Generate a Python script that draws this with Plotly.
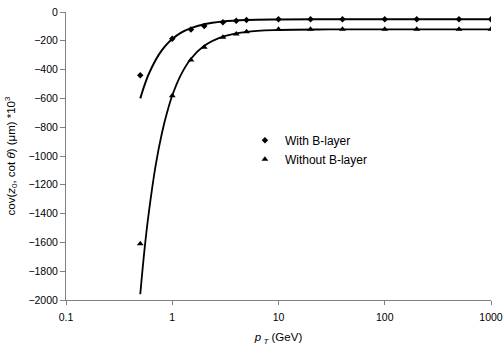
import plotly.graph_objects as go

# Measured data points
pt = [0.5, 1, 1.5, 2, 3, 4, 5, 10, 20, 40, 100, 200, 500, 1000]
with_b = [-440, -185, -122, -97, -72, -60, -55, -50, -50, -50, -50, -50, -50, -50]
without_b = [-1610, -581, -333, -245, -176, -153, -137, -120, -120, -120, -120, -120, -120, -120]

# Fit curves
fit_pt = [0.5, 0.55, 0.6, 0.7, 0.8, 0.9, 1, 1.2, 1.5, 2, 3, 5, 10, 30, 100, 1000]
fit_with = [-600, -505, -432, -331, -265, -220, -188, -145, -112, -85, -66, -56, -52, -50, -50, -50]
fit_without = [-1960, -1640, -1400, -1060, -840, -690, -580, -440, -325, -235, -171, -138, -125, -121, -120, -120]

font = "Liberation Sans, Arial, sans-serif"

fig = go.Figure()
fig.add_trace(go.Scatter(x=fit_pt, y=fit_with, mode="lines", line=dict(color="black", width=2, shape="spline"),
                         showlegend=False, hoverinfo="skip"))
fig.add_trace(go.Scatter(x=fit_pt, y=fit_without, mode="lines", line=dict(color="black", width=1.8, shape="spline"),
                         showlegend=False, hoverinfo="skip"))
fig.add_trace(go.Scatter(x=pt, y=with_b, mode="markers", name="With B-layer",
                         marker=dict(symbol="diamond", size=5, color="black")))
fig.add_trace(go.Scatter(x=pt, y=without_b, mode="markers", name="Without B-layer",
                         marker=dict(symbol="triangle-up", size=6, color="black")))

fig.update_layout(
    width=504, height=349,
    margin=dict(l=66, r=13, t=12, b=49, autoexpand=False),
    paper_bgcolor="white", plot_bgcolor="white",
    font=dict(family=font, size=10.5, color="black"),
    legend=dict(x=0.421, y=0.605, xanchor="left", yanchor="top", bgcolor="rgba(0,0,0,0)",
                font=dict(size=12), itemwidth=30, tracegroupgap=0),
)
fig.update_xaxes(type="log", range=[-1, 3], showgrid=False, zeroline=False, automargin=False,
                 showline=True, linecolor="#808080", linewidth=1,
                 ticks="outside", ticklen=4, tickcolor="#808080", ticklabelstandoff=3,
                 tickvals=[0.1, 1, 10, 100, 1000], ticktext=["0.1", "1", "10", "100", "1000"],
                 title=dict(text="<i>p</i><sub> <i>T</i></sub> (GeV)", font=dict(size=11.5), standoff=11))
fig.update_yaxes(range=[-2000, 0], showgrid=False, zeroline=False, automargin=False,
                 showline=True, linecolor="#808080", linewidth=1,
                 ticks="outside", ticklen=5, tickcolor="#808080",
                 tickvals=list(range(-2000, 1, 200)),
                 title=dict(text="cov(<i>z</i><sub>0</sub>, cot <i>θ</i>) (μm) *10<sup>3</sup>",
                            font=dict(size=11.5), standoff=10))

fig.write_html("out.html", config={"displayModeBar": False},
               post_script="document.body.style.margin='0px';")
